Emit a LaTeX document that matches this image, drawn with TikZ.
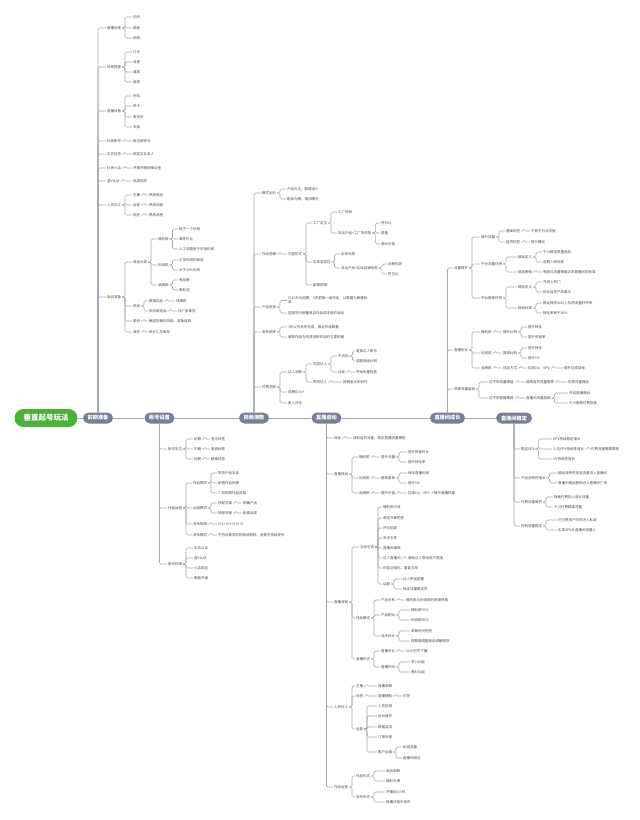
\documentclass[tikz,border=0pt]{standalone}
\usepackage{fontspec}
\setmainfont{Noto Sans CJK SC}
\definecolor{lc}{HTML}{A3A8B4}
\definecolor{tc}{HTML}{4A4A4A}
\definecolor{mc}{HTML}{787E94}
\definecolor{gc}{HTML}{4CB03A}
\tikzset{
  conn/.style={draw=lc, line width=0.55pt, rounded corners=1.6pt},
  lb/.style={anchor=west, inner sep=0.8pt, text=tc, font=\fontsize{3.5}{4.3}\selectfont},
  mn/.style={fill=mc, rounded corners=5.5pt, minimum width=30pt, minimum height=11pt, inner sep=0pt, text=white, font=\fontsize{5.2}{6}\selectfont\bfseries},
  ttl/.style={fill=gc, rounded corners=9pt, minimum width=63pt, minimum height=18pt, inner sep=0pt, text=white, font=\fontsize{7.5}{9}\selectfont\bfseries}
}
\newcommand\N[4]{\node[lb] (#1) at (#2,#3) {#4};}
\newcommand\kids[2]{\foreach \c in {#2}{\draw[conn] (#1.east) -- ++(3,0) |- (\c.west);}}
\newcommand\trunkup[2]{\foreach \c in {#2}{\draw[conn] (#1.north) |- (\c.west);}}
\newcommand\trunkdn[2]{\foreach \c in {#2}{\draw[conn] (#1.south) |- (\c.west);}}
\begin{document}
\begin{tikzpicture}[x=1pt,y=-1pt]
\useasboundingbox[fill=white] (0,0) rectangle (640,820);
% main nodes
\node[ttl] (root) at (46,418) {垂直起号玩法};
\node[mn] (m1) at (98,418) {前期准备};
\node[mn] (m2) at (159.5,418) {账号设置};
\node[mn] (m3) at (254,418) {视频测款};
\node[mn] (m4) at (326.5,418) {直播启动};
\node[mn, minimum width=35pt] (m5) at (447.5,418) {直播间成长};
\node[mn, minimum width=36pt] (m6) at (514,418) {直播间稳定};
\draw[conn] (root.east) -- (m1.west);
\draw[conn] (m1.east) -- (m2.west);
\draw[conn] (m2.east) -- (m3.west);
\draw[conn] (m3.east) -- (m4.west);
\draw[conn] (m4.east) -- (m5.west);
\draw[conn] (m5.east) -- (m6.west);
% ---------------- branch A
\N{a1}{106}{28}{直播场地}
\N{a11}{132}{17}{空间}
\N{a12}{132}{28}{隔音}
\N{a13}{132}{38}{网络}
\N{a2}{106}{67}{场景搭建}
\N{a21}{132}{52}{灯光}
\N{a22}{132}{62}{背景}
\N{a23}{132}{72}{道具}
\N{a24}{132}{82}{装饰}
\N{a3}{106}{111}{直播设备}
\N{a31}{132}{96}{手机}
\N{a32}{132}{106}{声卡}
\N{a33}{132}{117}{麦克风}
\N{a34}{132}{127}{支架}
\N{a4}{106}{141}{抖音账号}
\N{a41}{132}{141}{新注册账号}
\N{a5}{106}{154}{实名信息}
\N{a51}{132}{154}{绑定实名本人}
\N{a6}{106}{168}{抖音小店}
\N{a61}{132}{168}{开通并缴纳保证金}
\N{a7}{106}{181}{蓝V认证}
\N{a71}{132}{181}{品类相关}
\N{a8}{106}{205}{人员分工}
\N{a81}{132}{195}{主播}
\N{a811}{148}{195}{熟悉商品}
\N{a82}{132}{205}{运营}
\N{a821}{148}{205}{熟悉流程}
\N{a83}{132}{215}{场控}
\N{a831}{148}{215}{熟悉流程}
\N{a9}{106}{297}{商品准备}
\N{a91}{132}{262}{商品分类}
\N{a911}{157}{239}{福利款}
\N{a9111}{178}{229}{低于一个价格}
\N{a9112}{178}{239}{高性价比}
\N{a9113}{178}{249}{人工调整低于市场价格}
\N{a912}{157}{265}{利润款}
\N{a9121}{178}{260}{正常利润的商品}
\N{a9122}{178}{270}{大于20\%利润}
\N{a913}{157}{285}{品牌款}
\N{a9131}{178}{280}{有品牌}
\N{a9132}{178}{290}{高利润}
\N{a92}{132}{306}{货品}
\N{a921}{148}{301}{数据选品}
\N{a9211}{175}{301}{找爆款}
\N{a922}{148}{311}{供应链选品}
\N{a9221}{177}{311}{找厂家拿货}
\N{a93}{132}{321}{素材}
\N{a931}{148}{321}{确定拍摄的风格、准备道具}
\N{a94}{132}{332}{库存}
\N{a941}{148}{332}{统计汇总库存}
\trunkup{m1}{a1,a2,a3,a4,a5,a6,a7,a8,a9}
\kids{a1}{a11,a12,a13}
\kids{a2}{a21,a22,a23,a24}
\kids{a3}{a31,a32,a33,a34}
\kids{a4}{a41}
\kids{a5}{a51}
\kids{a6}{a61}
\kids{a7}{a71}
\kids{a8}{a81,a82,a83}
\kids{a81}{a811}
\kids{a82}{a821}
\kids{a83}{a831}
\kids{a9}{a91,a92,a93,a94}
\kids{a91}{a911,a912,a913}
\kids{a911}{a9111,a9112,a9113}
\kids{a912}{a9121,a9122}
\kids{a913}{a9131,a9132}
\kids{a92}{a921,a922}
\kids{a921}{a9211}
\kids{a922}{a9221}
\kids{a93}{a931}
\kids{a94}{a941}
% ---------------- branch B
\N{b1}{167}{449}{账号定位}
\N{b11}{193}{439}{初期}
\N{b111}{210}{439}{宽泛标签}
\N{b12}{193}{449}{中期}
\N{b121}{210}{449}{垂直标签}
\N{b13}{193}{459}{后期}
\N{b131}{210}{459}{精准标签}
\N{b2}{167}{508}{作品运营}
\N{b21}{192}{483}{作品模式}
\N{b211}{217}{473}{带货产品本身}
\N{b212}{217}{483}{剧情作品拍摄}
\N{b213}{217}{493}{二剪视频作品剪辑}
\N{b22}{192}{508}{运营模式}
\N{b221}{217}{503}{热配文案}
\N{b2211}{242}{503}{明确产品}
\N{b222}{217}{513}{热配流程}
\N{b2221}{242}{513}{剧情品类}
\N{b23}{192}{524}{发布规律}
\N{b231}{217}{524}{1+1+3+5+5+5+5}
\N{b24}{192}{535}{发布模式}
\N{b241}{217}{535}{不符合要求的视频就删除，就是可持续发布}
\N{b3}{167}{564}{账号权限}
\N{b31}{193}{548}{实名认证}
\N{b32}{193}{558}{蓝V认证}
\N{b33}{193}{568}{小店绑定}
\N{b34}{193}{578}{橱窗开通}
\trunkdn{m2}{b1,b2,b3}
\kids{b1}{b11,b12,b13}
\kids{b11}{b111}
\kids{b12}{b121}
\kids{b13}{b131}
\kids{b2}{b21,b22,b23,b24}
\kids{b21}{b211,b212,b213}
\kids{b22}{b221,b222}
\kids{b221}{b2211}
\kids{b222}{b2221}
\kids{b23}{b231}
\kids{b24}{b241}
\kids{b3}{b31,b32,b33,b34}
% ---------------- branch C
\N{c1}{261}{193}{模式划分}
\N{c11}{286}{189}{产品为主，剧情减少}
\N{c12}{286}{199}{剧本为辅，增加曝光}
\N{c2}{261}{254}{作品逻辑}
\N{c21}{287}{254}{内容形式}
\N{c211}{312}{223}{工厂定位}
\N{c2111}{337}{212}{工厂场景}
\N{c2112}{337}{233}{突出产品+工厂的优势}
\N{c21121}{380}{223}{性价比}
\N{c21122}{380}{233}{质量}
\N{c21123}{380}{244}{源头价格}
\N{c212}{312}{262}{实体店定位}
\N{c2121}{340}{254}{实体场景}
\N{c2122}{340}{268}{突出产品+实体店铺优势}
\N{c21221}{387}{264}{场景优势}
\N{c21222}{387}{274}{性价比}
\N{c213}{312}{285}{剧情逻辑}
\N{c3}{261}{307}{产品选择}
\node[lb, text width=82pt, align=left] (c31) at (287,300.5) {以15天为周期，3天更换一组作品，以数据为衡量标\\准};
\N{c32}{287}{313}{选择同行销量高且作品成本低的商品}
\N{c4}{261}{332}{发布频率}
\N{c41}{287}{327}{3天以内发布完成，保证作品数量}
\N{c42}{287}{337}{爆款作品为完成测款作品的主要依据}
\N{c5}{261}{387}{付费测款}
\N{c51}{287}{372}{达人测款}
\N{c511}{312}{364}{同类达人}
\N{c5111}{337}{356}{不达标}
\N{c51111}{355}{351}{更换达人账号}
\N{c51112}{355}{361}{调整佣金比例}
\N{c5112}{337}{372}{达标}
\N{c51121}{355}{372}{开始批量投放}
\N{c512}{312}{382}{带货达人}
\N{c5121}{342}{382}{按佣金比例合作}
\N{c52}{287}{392}{前期DOU+}
\N{c53}{287}{403}{素人评论}
\trunkup{m3}{c1,c2,c3,c4,c5}
\kids{c1}{c11,c12}
\kids{c2}{c21}
\kids{c21}{c211,c212,c213}
\kids{c211}{c2111,c2112}
\kids{c2112}{c21121,c21122,c21123}
\kids{c212}{c2121,c2122}
\kids{c2122}{c21221,c21222}
\kids{c3}{c31,c32}
\kids{c4}{c41,c42}
\kids{c5}{c51,c52,c53}
\kids{c51}{c511,c512}
\kids{c511}{c5111,c5112}
\kids{c5111}{c51111,c51112}
\kids{c5112}{c51121}
\kids{c512}{c5121}
% ---------------- branch D
\N{d1}{333}{438}{目标}
\N{d11}{352}{438}{获取自然流量，稳定直播流量模型}
\N{d2}{333}{474}{直播排品}
\N{d21}{358}{457}{福利款}
\N{d211}{380}{457}{提升流量}
\N{d2111}{407}{452}{提升停留时长}
\N{d2112}{407}{462}{提升转化率}
\N{d22}{358}{478}{利润款}
\N{d221}{380}{478}{提高客单}
\N{d2211}{407}{473}{保证直播利润}
\N{d2212}{407}{483}{提升UV}
\N{d23}{358}{493}{品牌款}
\N{d231}{380}{493}{提升价值}
\N{d2311}{407}{493}{拉高UV、GPV}
\N{d23111}{433}{493}{提升直播权重}
\N{d3}{333}{602}{直播流程}
\N{d31}{359}{547}{互动引流}
\N{d311}{382}{507}{福利款引流}
\N{d312}{382}{518}{讲品节奏把控}
\N{d313}{382}{528}{评论回复}
\N{d314}{382}{538}{关注引导}
\N{d315}{382}{548}{直播间福袋}
\N{d316}{382}{558}{达人直播间}
\N{d3161}{407}{558}{借助达人带动用户氛围}
\N{d317}{382}{568}{利益点强化、重复互动}
\N{d318}{382}{584}{话题}
\N{d3181}{402}{579}{达人带话题量}
\N{d3182}{402}{589}{保证流量稳定性}
\N{d32}{355}{618}{排品模式}
\N{d321}{380}{600}{产品关系}
\N{d3211}{405}{600}{福利款与利润款的承接转换}
\N{d322}{380}{615}{产品配比}
\N{d3221}{410}{610}{福利款70\%}
\N{d3222}{410}{620}{利润款30\%}
\N{d323}{380}{636}{话术设计}
\N{d3231}{410}{631}{讲解时间把控}
\N{d3232}{410}{641}{按数据调整商品讲解顺序}
\N{d33}{355}{659}{直播形式}
\N{d331}{380}{651}{直播时长}
\N{d3311}{405}{651}{12小时不下播}
\N{d332}{380}{667}{直播时间}
\N{d3321}{410}{662}{早7:00起}
\N{d3322}{410}{672}{晚8:00起}
\N{d4}{333}{707}{人员分工}
\N{d41}{355}{686}{主播}
\N{d411}{377}{686}{直播讲解}
\N{d42}{355}{696}{场控}
\N{d421}{377}{696}{直播辅助}
\N{d4211}{402}{696}{中控}
\N{d43}{355}{729}{运营}
\N{d431}{377}{706}{人员协调}
\N{d432}{377}{716}{后台操作}
\N{d433}{377}{727}{数据监测}
\N{d434}{377}{737}{订单处理}
\N{d435}{377}{752}{客户运维}
\N{d4351}{402}{747}{私域流量}
\N{d4352}{402}{758}{直播间粉丝}
\N{d5}{333}{787}{作品运营}
\N{d51}{355}{776}{作品形式}
\N{d511}{385}{771}{商品讲解}
\N{d512}{385}{781}{福利引爆}
\N{d52}{355}{797}{发布形式}
\N{d521}{385}{792}{开播前2小时}
\N{d522}{385}{802}{直播过程中发布}
\trunkdn{m4}{d1,d2,d3,d4,d5}
\kids{d1}{d11}
\kids{d2}{d21,d22,d23}
\kids{d21}{d211}
\kids{d211}{d2111,d2112}
\kids{d22}{d221}
\kids{d221}{d2211,d2212}
\kids{d23}{d231}
\kids{d231}{d2311}
\kids{d2311}{d23111}
\kids{d3}{d31,d32,d33}
\kids{d31}{d311,d312,d313,d314,d315,d316,d317,d318}
\kids{d316}{d3161}
\kids{d318}{d3181,d3182}
\kids{d32}{d321,d322,d323}
\kids{d321}{d3211}
\kids{d322}{d3221,d3222}
\kids{d323}{d3231,d3232}
\kids{d33}{d331,d332}
\kids{d331}{d3311}
\kids{d332}{d3321,d3322}
\kids{d4}{d41,d42,d43}
\kids{d41}{d411}
\kids{d42}{d421}
\kids{d421}{d4211}
\kids{d43}{d431,d432,d433,d434,d435}
\kids{d435}{d4351,d4352}
\kids{d5}{d51,d52}
\kids{d51}{d511,d512}
\kids{d52}{d521,d522}
% ---------------- branch E
\N{e1}{453}{268}{流量提升}
\N{e11}{480}{237}{提升流量}
\N{e111}{505}{231}{基础标签}
\N{e1111}{530}{231}{不低于行业均值}
\N{e112}{505}{242}{自然标签}
\N{e1121}{530}{242}{提升曝光}
\N{e12}{480}{264}{平台流量扶持}
\N{e121}{517}{257}{精品定义}
\N{e1211}{542}{252}{千川精选质量商品}
\N{e1212}{542}{262}{前期入库标准}
\N{e122}{517}{272}{精品策略}
\N{e1221}{542}{272}{等级与流量等级达到直播间的标准}
\N{e13}{480}{298}{平台推荐扶持}
\N{e131}{517}{287}{精品定义}
\N{e1311}{542}{282}{开启上热门}
\N{e1312}{542}{292}{优化自然产品展示}
\N{e132}{517}{308}{精品标准}
\N{e1321}{542}{303}{稳定保持30以上优质流量好评率}
\N{e1322}{542}{313}{转化率高于20\%}
\N{e2}{453}{350}{直播优化}
\N{e21}{480}{332}{福利款}
\N{e211}{502}{332}{提升比例}
\N{e2111}{527}{327}{提升转化}
\N{e2112}{527}{337}{提升停留率}
\N{e22}{480}{353}{利润款}
\N{e221}{502}{353}{提高比例}
\N{e2211}{527}{348}{提升转化}
\N{e2212}{527}{358}{提升UV}
\N{e23}{480}{368}{品牌款}
\N{e231}{502}{368}{排品方式}
\N{e2311}{527}{368}{拉高UV、GPV}
\N{e23111}{563}{368}{提升达成目标}
\N{e3}{453}{389}{突破流量层级}
\N{e31}{488}{382}{达不到流量峰值}
\N{e311}{525}{382}{提高自然流量推荐}
\N{e3111}{567}{382}{优质流量爆品}
\N{e32}{488}{398}{达不到直播推荐}
\N{e321}{525}{398}{直播间流量层级}
\N{e3211}{568}{393}{开启直播爆品}
\N{e3212}{568}{403}{千川推荐付费投放}
\trunkup{m5}{e1,e2,e3}
\kids{e1}{e11,e12,e13}
\kids{e11}{e111,e112}
\kids{e111}{e1111}
\kids{e112}{e1121}
\kids{e12}{e121,e122}
\kids{e121}{e1211,e1212}
\kids{e122}{e1221}
\kids{e13}{e131,e132}
\kids{e131}{e1311,e1312}
\kids{e132}{e1321,e1322}
\kids{e2}{e21,e22,e23}
\kids{e21}{e211}
\kids{e211}{e2111,e2112}
\kids{e22}{e221}
\kids{e221}{e2211,e2212}
\kids{e23}{e231}
\kids{e231}{e2311}
\kids{e2311}{e23111}
\kids{e3}{e31,e32}
\kids{e31}{e311}
\kids{e311}{e3111}
\kids{e32}{e321}
\kids{e321}{e3211,e3212}
% ---------------- branch F
\N{f1}{520}{449}{稳定GPV}
\N{f11}{552}{439}{GPV持续稳定增长}
\N{f12}{552}{449}{人均GPV持续性增长}
\N{f121}{590}{449}{付费流量需要精准}
\N{f13}{552}{459}{UV持续性增长}
\N{f2}{520}{478}{产品流转性增长}
\N{f21}{557}{473}{精品流转性投放流量进入直播间}
\N{f22}{557}{483}{直播中精品营销进入直播间广场}
\N{f3}{520}{502}{付费流量维护}
\N{f31}{553}{497}{随着付费投入增长流量}
\N{f32}{553}{507}{千川付费精准流量}
\N{f4}{520}{526}{控制流量稳定}
\N{f41}{557}{520}{已付费用户同时进入私域}
\N{f42}{557}{530}{实现GPV从直播间流量入}
\trunkdn{m6}{f1,f2,f3,f4}
\kids{f1}{f11,f12,f13}
\kids{f12}{f121}
\kids{f2}{f21,f22}
\kids{f3}{f31,f32}
\kids{f4}{f41,f42}
\end{tikzpicture}
\end{document}
